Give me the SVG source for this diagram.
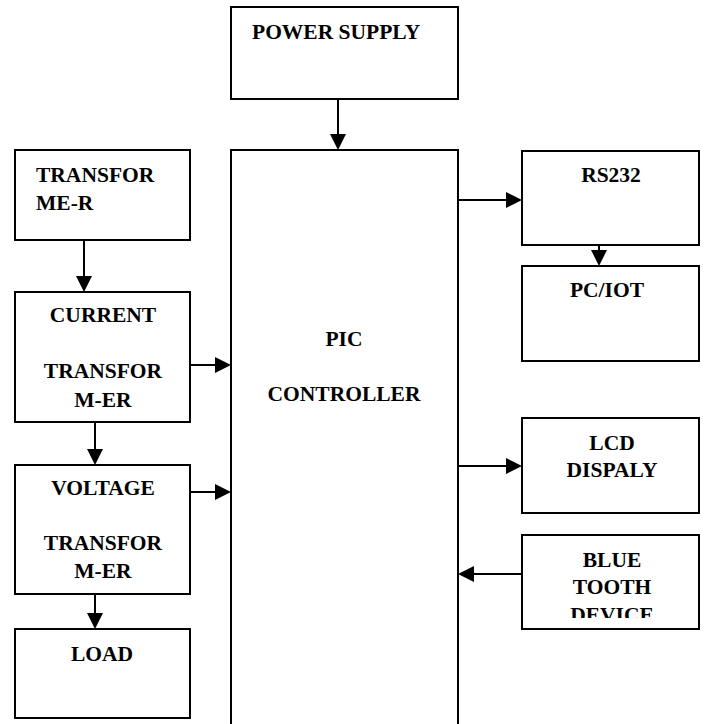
<svg xmlns="http://www.w3.org/2000/svg" width="706" height="724" viewBox="0 0 706 724">
<style>
.box{fill:#fff;stroke:#000;stroke-width:2}
.t{font-family:"Liberation Serif","Times New Roman",serif;font-weight:bold;font-size:21.5px;fill:#000}
.c{text-anchor:middle}
.ln{stroke:#000;stroke-width:2;fill:none}
</style>
<defs>
<clipPath id="btclip"><rect x="522" y="535" width="177" height="83"/></clipPath>
</defs>
<rect width="706" height="724" fill="#fff"/>
<g id="connectors">
<path class="ln" d="M338,99 V134"/><path d="M330,134 L346,134 L338,150 Z"/>
<path class="ln" d="M84,240 V276"/><path d="M76,276 L92,276 L84,292 Z"/>
<path class="ln" d="M190,365 H215"/><path d="M215,357 L215,373 L231,365 Z"/>
<path class="ln" d="M95,422 V449"/><path d="M87,449 L103,449 L95,465 Z"/>
<path class="ln" d="M190,492 H215"/><path d="M215,484 L215,500 L231,492 Z"/>
<path class="ln" d="M95,594 V613"/><path d="M87,613 L103,613 L95,629 Z"/>
<path class="ln" d="M458,200 H507"/><path d="M506,192 L506,208 L522,200 Z"/>
<path class="ln" d="M599,245 V251"/><path d="M591,250 L607,250 L599,266 Z"/>
<path class="ln" d="M458,466 H507"/><path d="M506,458 L506,474 L522,466 Z"/>
<path class="ln" d="M522,574 H474"/><path d="M474,566 L474,582 L458,574 Z"/>
</g>
<g id="power-supply">
<rect class="box" x="231" y="7" width="227" height="92"/>
<text class="t" x="252" y="39">POWER SUPPLY</text>
</g>
<g id="pic-controller">
<path class="box" d="M231,726 V150 H458 V726"/>
<text class="t c" x="344" y="346">PIC</text>
<text class="t c" x="344" y="401">CONTROLLER</text>
</g>
<g id="transformer">
<rect class="box" x="15" y="150" width="175" height="90"/>
<text class="t" x="36" y="182">TRANSFOR</text>
<text class="t" x="36" y="210">ME-R</text>
</g>
<g id="current-transformer">
<rect class="box" x="15" y="292" width="175" height="130"/>
<text class="t c" x="103" y="322">CURRENT</text>
<text class="t c" x="103" y="378">TRANSFOR</text>
<text class="t c" x="103" y="407">M-ER</text>
</g>
<g id="voltage-transformer">
<rect class="box" x="15" y="465" width="175" height="129"/>
<text class="t c" x="103" y="495">VOLTAGE</text>
<text class="t c" x="103" y="550">TRANSFOR</text>
<text class="t c" x="103" y="578">M-ER</text>
</g>
<g id="load">
<rect class="box" x="15" y="629" width="175" height="89"/>
<text class="t c" x="102" y="661">LOAD</text>
</g>
<g id="rs232">
<rect class="box" x="522" y="151" width="177" height="94"/>
<text class="t c" x="611" y="182">RS232</text>
</g>
<g id="pc-iot">
<rect class="box" x="522" y="266" width="177" height="95"/>
<text class="t c" x="607" y="297">PC/IOT</text>
</g>
<g id="lcd-display">
<rect class="box" x="522" y="418" width="177" height="95"/>
<text class="t c" x="612" y="450">LCD</text>
<text class="t c" x="612" y="477">DISPALY</text>
</g>
<g id="bluetooth-device">
<rect class="box" x="522" y="535" width="177" height="94"/>
<text class="t c" x="612" y="567">BLUE</text>
<text class="t c" x="612" y="594">TOOTH</text>
<text class="t c" x="612" y="622" clip-path="url(#btclip)">DEVICE</text>
</g>
</svg>
